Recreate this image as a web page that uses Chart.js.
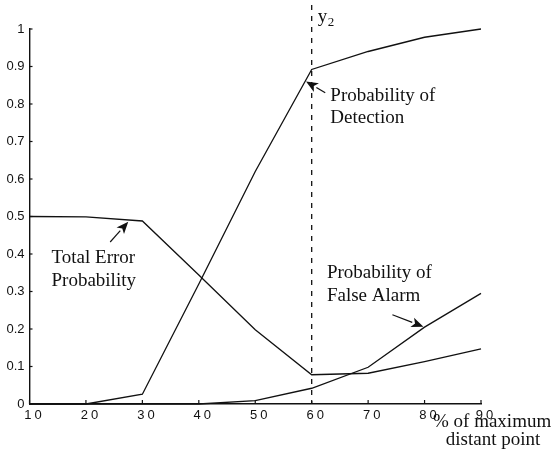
<!DOCTYPE html>
<html>
<head>
<meta charset="utf-8">
<script src="https://cdn.jsdelivr.net/npm/chart.js@4/dist/chart.umd.min.js"></script>
<style>
  html, body { margin: 0; padding: 0; background: #fff; }
  #wrap { width: 551px; height: 463px; }
</style>
</head>
<body>
<div id="wrap"><canvas id="chart-canvas"></canvas></div>
<script>
// values
const xValues = [10, 20, 30, 40, 50, 60, 70, 80, 90];
const detection = [0, 0, 0.026, 0.32, 0.62, 0.892, 0.94, 0.978, 1.0];
const totalError = [0.5, 0.499, 0.488, 0.344, 0.198, 0.078, 0.082, 0.113, 0.147];
const falseAlarm = [0, 0, 0, 0, 0.009, 0.042, 0.098, 0.205, 0.295];
const xTickLabels = ['10', '20', '30', '40', '50', '60', '70', '80', '90'];
const thresholdX = 60;
const thresholdLabel = ['y', '2'];

// annotation text and arrows, placed in data units
const notes = [
  { lines: ['Total Error', 'Probability'], x: 13.9, y: [0.39, 0.328] },
  { lines: ['Probability of', 'Detection'], x: 63.3, y: [0.82, 0.762] },
  { lines: ['Probability of', 'False Alarm'], x: 62.7, y: [0.348, 0.288] }
];
const arrows = [
  { from: [24.3, 0.432], to: [27.5, 0.486] },
  { from: [62.4, 0.83], to: [59.0, 0.86] },
  { from: [74.3, 0.238], to: [79.8, 0.206] }
];
const xTitle = ['% of maximum', 'distant point'];

const toPoints = (ys) => xValues.map((x, i) => ({ x: x, y: ys[i] }));

const lineStyle = {
  borderColor: '#111',
  backgroundColor: '#111',
  borderWidth: 1.3,
  pointRadius: 0,
  fill: false,
  tension: 0,
  clip: false
};

const serif = '"Liberation Serif", "Times New Roman", serif';
const sans = '"Liberation Sans", Arial, sans-serif';

const drawArrow = (ctx, x1, y1, x2, y2) => {
  const ang = Math.atan2(y2 - y1, x2 - x1);
  const len = 12, half = 5;
  const bx = x2 - len * Math.cos(ang), by = y2 - len * Math.sin(ang);
  ctx.beginPath();
  ctx.moveTo(x1, y1);
  ctx.lineTo(bx, by);
  ctx.stroke();
  ctx.beginPath();
  ctx.moveTo(x2, y2);
  ctx.lineTo(bx + half * Math.sin(ang), by - half * Math.cos(ang));
  ctx.lineTo(bx + 3 * Math.cos(ang), by + 3 * Math.sin(ang));
  ctx.lineTo(bx - half * Math.sin(ang), by + half * Math.cos(ang));
  ctx.closePath();
  ctx.fill();
};

const extras = {
  id: 'extras',
  afterDraw(chart) {
    const ctx = chart.ctx;
    const xs = chart.scales.x, ys = chart.scales.y;
    const area = chart.chartArea;
    ctx.save();
    ctx.strokeStyle = '#111';
    ctx.fillStyle = '#111';

    // inward tick marks
    ctx.lineWidth = 1.2;
    xs.ticks.forEach((t) => {
      const px = xs.getPixelForValue(t.value);
      ctx.beginPath();
      ctx.moveTo(px, area.bottom);
      ctx.lineTo(px, area.bottom - 4);
      ctx.stroke();
    });
    ys.ticks.forEach((t) => {
      const py = ys.getPixelForValue(t.value);
      ctx.beginPath();
      ctx.moveTo(area.left, py);
      ctx.lineTo(area.left + 3, py);
      ctx.stroke();
    });

    // x tick labels, widely spaced like the scan
    ctx.font = '13px ' + sans;
    ctx.letterSpacing = '3px';
    ctx.textAlign = 'center';
    ctx.textBaseline = 'middle';
    xs.ticks.forEach((t, i) => {
      ctx.fillText(xTickLabels[i], xs.getPixelForValue(t.value) + 5, area.bottom + 11);
    });
    ctx.letterSpacing = '0px';

    // dashed threshold line
    const tx = xs.getPixelForValue(thresholdX);
    ctx.lineWidth = 1.3;
    ctx.setLineDash([5, 6]);
    ctx.beginPath();
    ctx.moveTo(tx, ys.getPixelForValue(1.064));
    ctx.lineTo(tx, area.bottom);
    ctx.stroke();
    ctx.setLineDash([]);

    // y2 label
    ctx.textAlign = 'left';
    ctx.textBaseline = 'alphabetic';
    ctx.font = '19px ' + serif;
    const lx = tx + 6, ly = ys.getPixelForValue(1.018);
    ctx.fillText(thresholdLabel[0], lx, ly);
    ctx.font = '13px ' + serif;
    ctx.fillText(thresholdLabel[1], lx + ctx.measureText(thresholdLabel[0]).width + 3.5, ly + 4);

    // annotations
    ctx.font = '19px ' + serif;
    ctx.textBaseline = 'middle';
    notes.forEach((n) => {
      n.lines.forEach((s, i) => {
        ctx.fillText(s, xs.getPixelForValue(n.x), ys.getPixelForValue(n.y[i]));
      });
    });
    ctx.lineWidth = 1.2;
    arrows.forEach((a) => {
      drawArrow(ctx,
        xs.getPixelForValue(a.from[0]), ys.getPixelForValue(a.from[1]),
        xs.getPixelForValue(a.to[0]), ys.getPixelForValue(a.to[1]));
    });

    // axis title at the lower right
    ctx.textBaseline = 'alphabetic';
    ctx.textAlign = 'left';
    ctx.fillText(xTitle[0], area.right - 48, area.bottom + 23);
    ctx.textAlign = 'center';
    ctx.fillText(xTitle[1], area.right + 12, area.bottom + 41);
    ctx.restore();
  }
};

const ctx = document.getElementById('chart-canvas');
new Chart(ctx, {
  type: 'line',
  data: {
    datasets: [
      Object.assign({ label: 'Probability of Detection', data: toPoints(detection) }, lineStyle),
      Object.assign({ label: 'Total Error Probability', data: toPoints(totalError) }, lineStyle),
      Object.assign({ label: 'Probability of False Alarm', data: toPoints(falseAlarm) }, lineStyle)
    ]
  },
  options: {
    responsive: true,
    maintainAspectRatio: false,
    animation: false,
    events: [],
    layout: { padding: { top: 29, right: 70, left: 0, bottom: 0 } },
    plugins: {
      legend: { display: false },
      tooltip: { enabled: false },
      title: { display: false }
    },
    scales: {
      x: {
        type: 'linear',
        min: 10,
        max: 90,
        ticks: { stepSize: 10, display: false },
        grid: { display: true, drawOnChartArea: false, drawTicks: false },
        border: { display: true, color: '#111', width: 1.4 },
        afterFit: (scale) => { scale.height = 59; }
      },
      y: {
        min: 0,
        max: 1,
        ticks: {
          stepSize: 0.1,
          padding: 5,
          color: '#111',
          font: { family: sans, size: 13 },
          callback: (v) => String(Number(v.toFixed(1)))
        },
        grid: { display: true, drawOnChartArea: false, drawTicks: false },
        border: { display: true, color: '#111', width: 1.4 },
        afterFit: (scale) => { scale.width = 29.5; }
      }
    }
  },
  plugins: [extras]
});
</script>
</body>
</html>
